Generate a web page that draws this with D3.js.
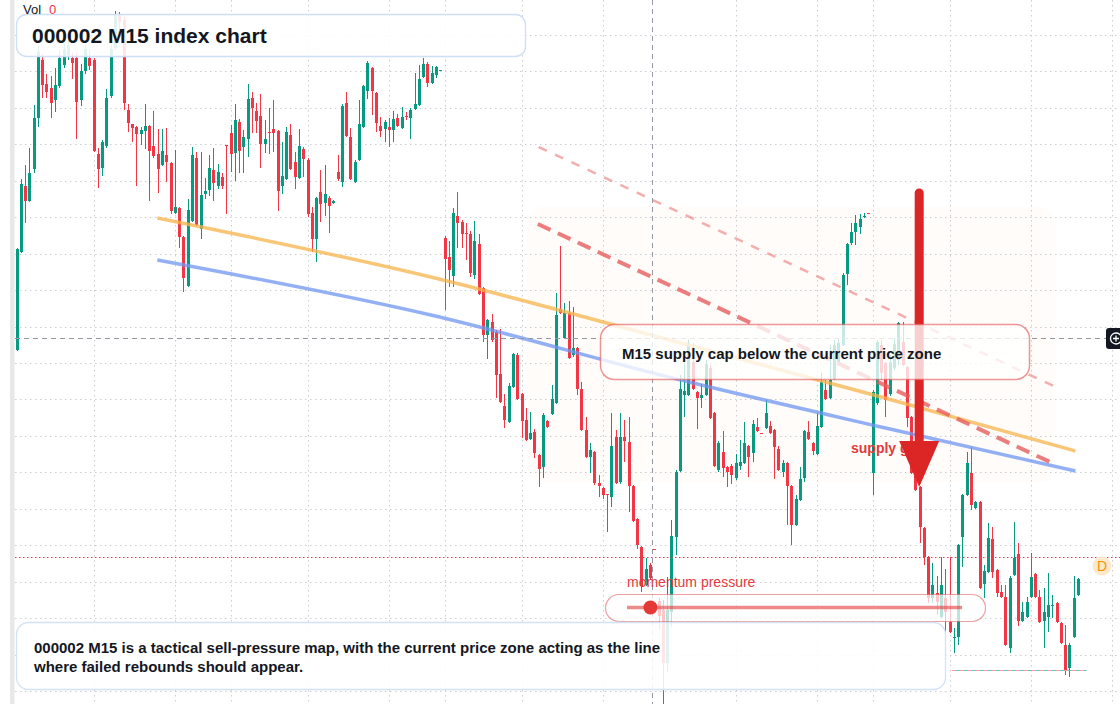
<!DOCTYPE html>
<html>
<head>
<meta charset="utf-8">
<script src="https://cdn.jsdelivr.net/npm/d3@7"></script>
<style>
  html, body { margin: 0; padding: 0; background: #fff; }
  svg { display: block; font-family: "Liberation Sans", Arial, sans-serif; }
</style>
</head>
<body>
<div id="chart"></div>
<script>
// M15 bars, index points
const open = [
  2650, 2748, 2814, 2799, 2831, 2882, 2940, 2916, 2912, 2900, 2914, 2935, 2945, 2942, 2942, 2900, 2929, 2942, 2940, 2846,
  2832, 2854, 2904, 2952, 2985, 2980, 2890, 2876, 2873, 2866, 2869, 2874, 2854, 2846, 2835, 2845, 2837, 2787, 2792, 2763,
  2714, 2779, 2842, 2771, 2806, 2810, 2830, 2814, 2823, 2855, 2867, 2847, 2878, 2853, 2861, 2902, 2889, 2884, 2856, 2868,
  2871, 2869, 2814, 2821, 2865, 2838, 2822, 2851, 2840, 2787, 2761, 2808, 2797, 2802, 2797, 2828, 2818, 2897, 2863, 2818,
  2840, 2873, 2909, 2932, 2907, 2874, 2871, 2873, 2870, 2882, 2872, 2884, 2882, 2891, 2895, 2923, 2936, 2917, 2925, 2929,
  2762, 2743, 2724, 2784, 2778, 2767, 2766, 2725, 2756, 2712, 2665, 2678, 2668, 2626, 2594, 2578, 2613, 2645, 2606, 2580,
  2561, 2568, 2545, 2533, 2579, 2586, 2597, 2691, 2662, 2687, 2645, 2652, 2611, 2570, 2543, 2548, 2517, 2512, 2506, 2503,
  2563, 2518, 2563, 2558, 2514, 2481, 2453, 2415, 2435, 2451, 2399, 2390, 2337, 2388, 2463, 2529, 2605, 2605, 2638, 2608,
  2602, 2605, 2632, 2587, 2530, 2548, 2533, 2534, 2522, 2534, 2537, 2554, 2547, 2573, 2567, 2572, 2574, 2570, 2551, 2528,
  2537, 2514, 2475, 2500, 2522, 2568, 2557, 2546, 2573, 2610, 2602, 2621, 2638, 2655, 2726, 2757, 2768, 2773, 2783, 2787,
  2527, 2597, 2655, 2637, 2606, 2632, 2640, 2658, 2633, 2583, 2527, 2513, 2472, 2443, 2402, 2407, 2383, 2402, 2378, 2362,
  2363, 2463, 2505, 2527, 2492, 2498, 2416, 2428, 2461, 2430, 2408, 2403, 2352, 2425, 2446, 2379, 2383, 2403, 2426, 2403,
  2379, 2383, 2394, 2397, 2377, 2355, 2332, 2363, 2405
]
const high = [
  2752, 2821, 2835, 2852, 2895, 2954, 2946, 2926, 2924, 2932, 2950, 2956, 2960, 2947, 2947, 2936, 2955, 2950, 2942, 2852,
  2860, 2911, 2955, 2989, 2988, 2984, 2896, 2876, 2874, 2873, 2896, 2875, 2889, 2871, 2871, 2872, 2838, 2850, 2793, 2764,
  2801, 2853, 2848, 2848, 2822, 2845, 2852, 2836, 2827, 2855, 2875, 2896, 2881, 2870, 2916, 2908, 2897, 2906, 2880, 2892,
  2900, 2870, 2858, 2873, 2876, 2848, 2871, 2853, 2842, 2793, 2803, 2830, 2835, 2804, 2800, 2845, 2896, 2908, 2872, 2840,
  2900, 2915, 2939, 2933, 2908, 2883, 2880, 2882, 2889, 2886, 2893, 2888, 2892, 2927, 2935, 2942, 2938, 2934, 2934, 2930,
  2764, 2759, 2792, 2808, 2780, 2777, 2769, 2779, 2766, 2713, 2681, 2686, 2670, 2671, 2606, 2617, 2647, 2647, 2607, 2592,
  2588, 2571, 2546, 2587, 2580, 2615, 2707, 2754, 2697, 2699, 2693, 2653, 2618, 2583, 2557, 2549, 2525, 2513, 2506, 2587,
  2570, 2587, 2580, 2583, 2515, 2482, 2454, 2442, 2437, 2451, 2402, 2400, 2423, 2480, 2530, 2625, 2637, 2660, 2657, 2609,
  2616, 2640, 2635, 2588, 2559, 2569, 2534, 2536, 2546, 2560, 2578, 2555, 2580, 2582, 2567, 2600, 2579, 2571, 2554, 2540,
  2538, 2515, 2505, 2533, 2570, 2579, 2558, 2587, 2627, 2620, 2655, 2660, 2662, 2727, 2757, 2777, 2785, 2786, 2787, 2787,
  2610, 2660, 2660, 2638, 2645, 2662, 2678, 2678, 2634, 2584, 2530, 2514, 2473, 2444, 2437, 2424, 2443, 2431, 2443, 2372,
  2456, 2506, 2548, 2553, 2499, 2499, 2435, 2477, 2473, 2431, 2415, 2415, 2424, 2478, 2457, 2398, 2403, 2447, 2427, 2410,
  2412, 2427, 2405, 2398, 2378, 2375, 2357, 2424, 2422
]
const low = [
  2649, 2747, 2777, 2798, 2827, 2873, 2902, 2902, 2882, 2888, 2912, 2932, 2940, 2921, 2861, 2894, 2926, 2930, 2848, 2812,
  2824, 2852, 2902, 2950, 2970, 2890, 2868, 2858, 2814, 2855, 2851, 2799, 2842, 2807, 2834, 2818, 2786, 2786, 2752, 2708,
  2713, 2778, 2774, 2761, 2801, 2804, 2799, 2811, 2811, 2786, 2828, 2819, 2827, 2827, 2843, 2867, 2867, 2832, 2847, 2846,
  2848, 2789, 2806, 2820, 2830, 2811, 2821, 2823, 2783, 2748, 2738, 2778, 2784, 2767, 2796, 2819, 2813, 2863, 2820, 2817,
  2839, 2872, 2901, 2885, 2868, 2863, 2858, 2853, 2858, 2873, 2871, 2880, 2861, 2890, 2894, 2922, 2913, 2916, 2922, 2929,
  2690, 2713, 2713, 2752, 2752, 2740, 2723, 2721, 2705, 2658, 2641, 2658, 2602, 2597, 2572, 2577, 2612, 2600, 2562, 2559,
  2560, 2542, 2513, 2522, 2572, 2585, 2596, 2686, 2661, 2641, 2643, 2605, 2569, 2542, 2527, 2515, 2503, 2501, 2468, 2493,
  2516, 2516, 2538, 2488, 2478, 2451, 2408, 2414, 2420, 2450, 2370, 2296, 2328, 2373, 2445, 2528, 2583, 2604, 2610, 2571,
  2592, 2604, 2581, 2533, 2528, 2523, 2513, 2516, 2520, 2530, 2536, 2523, 2538, 2568, 2566, 2571, 2566, 2521, 2529, 2523,
  2475, 2455, 2474, 2499, 2518, 2560, 2545, 2545, 2572, 2600, 2601, 2620, 2637, 2654, 2715, 2755, 2755, 2766, 2782, 2786,
  2505, 2595, 2620, 2583, 2604, 2630, 2635, 2634, 2573, 2526, 2509, 2457, 2435, 2397, 2397, 2385, 2382, 2362, 2367, 2347,
  2355, 2433, 2504, 2490, 2491, 2411, 2402, 2427, 2422, 2403, 2402, 2354, 2347, 2424, 2374, 2378, 2382, 2402, 2402, 2377,
  2352, 2368, 2382, 2377, 2356, 2325, 2323, 2362, 2404
]
const close = [
  2751, 2816, 2799, 2827, 2882, 2948, 2915, 2908, 2897, 2915, 2942, 2951, 2955, 2937, 2898, 2929, 2951, 2934, 2849, 2831,
  2858, 2902, 2951, 2985, 2978, 2897, 2877, 2872, 2866, 2870, 2874, 2849, 2844, 2831, 2849, 2838, 2789, 2793, 2763, 2722,
  2790, 2845, 2775, 2805, 2809, 2832, 2817, 2828, 2814, 2854, 2846, 2880, 2849, 2863, 2901, 2892, 2879, 2856, 2861, 2867,
  2867, 2809, 2824, 2868, 2831, 2823, 2854, 2841, 2786, 2761, 2802, 2796, 2806, 2794, 2799, 2821, 2894, 2864, 2821, 2838,
  2876, 2914, 2937, 2909, 2877, 2869, 2878, 2870, 2881, 2874, 2883, 2883, 2890, 2896, 2921, 2936, 2917, 2927, 2933, 2930,
  2741, 2730, 2787, 2777, 2766, 2766, 2727, 2759, 2706, 2665, 2680, 2660, 2625, 2598, 2580, 2614, 2646, 2601, 2579, 2560,
  2567, 2547, 2531, 2585, 2573, 2601, 2685, 2687, 2687, 2642, 2652, 2611, 2570, 2543, 2550, 2517, 2514, 2505, 2505, 2554,
  2517, 2563, 2559, 2514, 2479, 2455, 2414, 2431, 2422, 2450, 2384, 2337, 2390, 2464, 2528, 2611, 2609, 2657, 2611, 2602,
  2605, 2636, 2582, 2534, 2557, 2532, 2528, 2525, 2537, 2538, 2557, 2543, 2576, 2569, 2566, 2587, 2567, 2553, 2530, 2537,
  2514, 2475, 2501, 2521, 2569, 2561, 2549, 2574, 2618, 2601, 2620, 2655, 2657, 2725, 2756, 2768, 2777, 2781, 2784, 2786,
  2608, 2658, 2627, 2600, 2638, 2656, 2677, 2635, 2582, 2527, 2510, 2473, 2443, 2402, 2415, 2398, 2415, 2388, 2368, 2363,
  2455, 2505, 2537, 2495, 2498, 2412, 2429, 2462, 2428, 2407, 2403, 2355, 2422, 2442, 2379, 2388, 2398, 2423, 2403, 2378,
  2388, 2395, 2395, 2378, 2357, 2330, 2355, 2402, 2421
]

// time grid (bar index of each time mark) and price grid
const timeGrid = [18, 37, 50, 68, 87, 100, 118, 137, 168, 187, 200, 218, 237, 256]
const priceGridTop = 2965
const priceGridStep = 36.45
const priceGrid = d3.range(19).map(k => priceGridTop - k * priceGridStep)

// drawings: [bar, price]
const resistanceCurve = [[32.9, 2782], [96.8, 2723], [155.2, 2657], [202, 2603], [247.4, 2549]]
const supportCurve = [[32.9, 2740], [96.8, 2685], [155.2, 2620], [202, 2573], [247.4, 2529]]
const capLine = [[121.8, 2776], [242.5, 2536]]
const capLineUpper = [[122, 2853], [242.3, 2614]]
const zoneBars = [119.4, 242.3]
const zonePrices = [2518, 2793]
const arrowBar = 210.9
const arrowPrices = [2807, 2559, 2513] // start, head base, tip
const crosshair = [148.45, 2662]
const lastPrice = 2443
const lowMark = { price: 2330, from: 218.5, to: 250 }

const width = 1120
const height = 704
const x = d3.scaleLinear().domain([0, open.length - 1]).range([16.5, 1078])
const y = d3.scaleLinear().domain([2296, 3000]).range([height, 0])

const up = '#089981'
const down = '#f23645'
const ink = '#131722'

const svg = d3.select('#chart').append('svg').attr('width', width).attr('height', height)
svg.append('rect').attr('width', width).attr('height', height).attr('fill', '#fff')
svg.append('rect').attr('x', 10).attr('width', 4.5).attr('height', height).attr('fill', '#e8e8ea')

// grid
svg.append('g').selectAll('line').data(timeGrid).join('line')
  .attr('x1', d => Math.round(x(d)) + 0.5).attr('x2', d => Math.round(x(d)) + 0.5)
  .attr('y1', 0).attr('y2', height)
  .attr('stroke', '#c9cdd4').attr('stroke-dasharray', '1.5 3.5')
svg.append('g').selectAll('line').data(priceGrid).join('line')
  .attr('x1', 15).attr('x2', width)
  .attr('y1', d => Math.round(y(d)) + 0.5).attr('y2', d => Math.round(y(d)) + 0.5)
  .attr('stroke', '#c9cdd4').attr('stroke-dasharray', '1.5 3.5')

// shaded zone
svg.append('rect')
  .attr('x', x(zoneBars[0])).attr('y', y(zonePrices[1]))
  .attr('width', x(zoneBars[1]) - x(zoneBars[0])).attr('height', y(zonePrices[0]) - y(zonePrices[1]))
  .attr('rx', 14).attr('fill', 'rgba(250,170,110,0.035)')

// candles
const bars = d3.range(open.length)
const colorOf = i => close[i] >= open[i] ? up : down
const gCandles = svg.append('g')
gCandles.selectAll('line').data(bars).join('line')
  .attr('x1', i => Math.round(x(i)) + 0.5).attr('x2', i => Math.round(x(i)) + 0.5)
  .attr('y1', i => y(high[i])).attr('y2', i => y(low[i]))
  .attr('stroke', colorOf).attr('stroke-width', 1)
gCandles.selectAll('rect').data(bars).join('rect')
  .attr('x', i => Math.round(x(i)) - 1).attr('width', 3)
  .attr('y', i => y(Math.max(open[i], close[i])))
  .attr('height', i => Math.max(1, Math.abs(y(open[i]) - y(close[i]))))
  .attr('fill', colorOf)

// trend drawings
const path = d3.line().x(d => x(d[0])).y(d => y(d[1]))
const curve = d3.line().x(d => x(d[0])).y(d => y(d[1])).curve(d3.curveMonotoneX)
svg.append('path').attr('d', curve(resistanceCurve)).attr('fill', 'none')
  .attr('stroke', '#f7b34a').attr('stroke-opacity', 0.75).attr('stroke-width', 3.5)
svg.append('path').attr('d', curve(supportCurve)).attr('fill', 'none')
  .attr('stroke', '#6f95f2').attr('stroke-opacity', 0.75).attr('stroke-width', 3.5)
svg.append('path').attr('d', path(capLineUpper)).attr('fill', 'none')
  .attr('stroke', '#f08c8c').attr('stroke-opacity', 0.7).attr('stroke-width', 2.5).attr('stroke-dasharray', '9 9')
svg.append('path').attr('d', path(capLine)).attr('fill', 'none')
  .attr('stroke', '#e65c5c').attr('stroke-opacity', 0.8).attr('stroke-width', 4).attr('stroke-dasharray', '14 8')

// price lines
svg.append('line').attr('x1', 15).attr('x2', width)
  .attr('y1', Math.round(y(lastPrice)) + 0.5).attr('y2', Math.round(y(lastPrice)) + 0.5)
  .attr('stroke', down).attr('stroke-dasharray', '1.5 2.5')
const lowY = Math.round(y(lowMark.price)) + 0.5
svg.append('line').attr('x1', x(lowMark.from)).attr('x2', x(lowMark.to)).attr('y1', lowY).attr('y2', lowY)
  .attr('stroke', '#f59aa2').attr('stroke-dasharray', '4 4')
svg.append('line').attr('x1', x(lowMark.from) + 4).attr('x2', x(lowMark.to)).attr('y1', lowY).attr('y2', lowY)
  .attr('stroke', '#5cc1b4').attr('stroke-dasharray', '4 4')

// crosshair
const cx = Math.round(x(crosshair[0])) + 0.5
const cy = Math.round(y(crosshair[1])) + 0.5
svg.append('line').attr('x1', cx).attr('x2', cx).attr('y1', 0).attr('y2', height)
  .attr('stroke', '#9598a1').attr('stroke-dasharray', '5 4')
svg.append('line').attr('x1', 15).attr('x2', 1106).attr('y1', cy).attr('y2', cy)
  .attr('stroke', '#9598a1').attr('stroke-dasharray', '5 4')

// supply gate label and arrow
svg.append('text').attr('x', 851).attr('y', 453).attr('fill', '#e03a3e')
  .attr('font-size', 14).attr('font-weight', 700).text('supply gate')
const ax = x(arrowBar)
svg.append('line').attr('x1', ax).attr('x2', ax)
  .attr('y1', y(arrowPrices[0])).attr('y2', y(arrowPrices[1]) + 2)
  .attr('stroke', '#dc2626').attr('stroke-width', 9).attr('stroke-linecap', 'round')
svg.append('path')
  .attr('d', `M${ax - 20},${y(arrowPrices[1])} L${ax + 20},${y(arrowPrices[1])} L${ax},${y(arrowPrices[2])} Z`)
  .attr('fill', '#dc2626')

// callout
svg.append('rect').attr('x', 600.5).attr('y', 324.5).attr('width', 429).attr('height', 55).attr('rx', 14)
  .attr('fill', 'rgba(255,255,255,0.78)').attr('stroke', 'rgba(226,80,80,0.6)').attr('stroke-width', 1.5)
svg.append('text').attr('x', 622).attr('y', 359).attr('fill', ink)
  .attr('font-size', 15).attr('font-weight', 700).text('M15 supply cap below the current price zone')

// momentum pressure gauge
const momentum = 0.07
const track = d3.scaleLinear().domain([0, 1]).range([627, 962])
svg.append('text').attr('x', 627).attr('y', 587).attr('fill', '#e03a3e')
  .attr('font-size', 14).attr('font-weight', 500).text('momentum pressure')
svg.append('rect').attr('x', 605.5).attr('y', 594.5).attr('width', 380).attr('height', 27).attr('rx', 13.5)
  .attr('fill', 'rgba(255,255,255,0.72)').attr('stroke', 'rgba(226,80,80,0.55)').attr('stroke-width', 1.2)
svg.append('line').attr('x1', track(0)).attr('x2', track(1)).attr('y1', 607.5).attr('y2', 607.5)
  .attr('stroke', 'rgba(226,60,60,0.6)').attr('stroke-width', 3.5)
svg.append('circle').attr('cx', track(momentum)).attr('cy', 607.5).attr('r', 7).attr('fill', '#e53935')

// note box
svg.append('rect').attr('x', 16.5).attr('y', 622.5).attr('width', 929).attr('height', 67).attr('rx', 12)
  .attr('fill', 'rgba(255,255,255,0.88)').attr('stroke', '#d3e2f6').attr('stroke-width', 1.3)
const note = svg.append('text').attr('fill', ink).attr('font-size', 15).attr('font-weight', 700)
note.append('tspan').attr('x', 34).attr('y', 653)
  .text('000002 M15 is a tactical sell-pressure map, with the current price zone acting as the line')
note.append('tspan').attr('x', 34).attr('y', 672).text('where failed rebounds should appear.')

// title
svg.append('rect').attr('x', 16.5).attr('y', 14.5).attr('width', 509).attr('height', 42).attr('rx', 10)
  .attr('fill', 'rgba(255,255,255,0.88)').attr('stroke', '#cddff6').attr('stroke-width', 1.3)
svg.append('text').attr('x', 32).attr('y', 43).attr('fill', ink)
  .attr('font-size', 21).attr('font-weight', 700).text('000002 M15 index chart')
const vol = svg.append('text').attr('x', 23).attr('y', 14).attr('font-size', 13)
vol.append('tspan').attr('fill', ink).text('Vol')
vol.append('tspan').attr('x', 49).attr('fill', down).text('0')

// right-edge badges
svg.append('rect').attr('x', 1106).attr('y', 328).attr('width', 22).attr('height', 21).attr('rx', 3).attr('fill', ink)
svg.append('circle').attr('cx', 1116).attr('cy', 338.5).attr('r', 5.5).attr('fill', 'none')
  .attr('stroke', '#fff').attr('stroke-width', 1.3)
svg.append('path').attr('d', 'M1113,338.5H1119M1116,335.5V341.5').attr('stroke', '#fff').attr('stroke-width', 1.3)
svg.append('circle').attr('cx', 1102).attr('cy', 566).attr('r', 9.5).attr('fill', '#fde8cc')
svg.append('text').attr('x', 1102).attr('y', 571).attr('text-anchor', 'middle')
  .attr('font-size', 14).attr('fill', '#f59300').text('D')
</script>
</body>
</html>
